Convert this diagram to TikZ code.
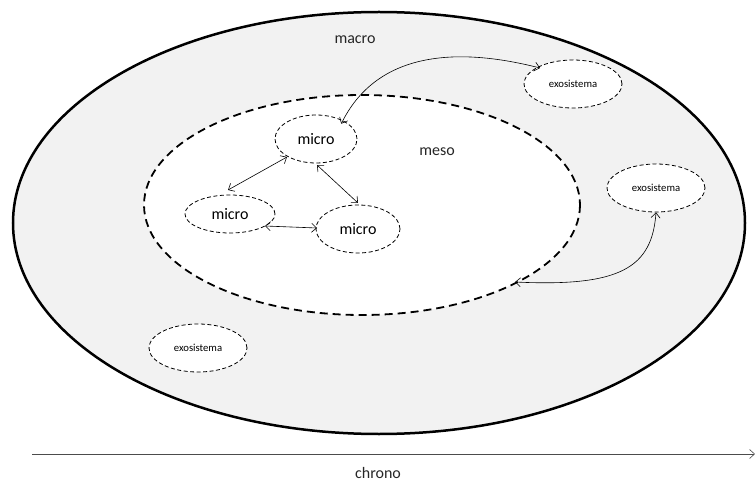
\documentclass[tikz,border=0pt]{standalone}
\usepackage{fontspec}
\setmainfont{Carlito}
\usetikzlibrary{arrows.meta,shapes.geometric}
\definecolor{ringgray}{HTML}{F2F2F2}
\begin{document}
\begin{tikzpicture}[x=1pt,y=-1pt,
  >={Straight Barb[length=5pt,width=9pt]},
  level/.style={ellipse, draw, fill=white, dashed, line width=0.8pt,
    dash pattern=on 4pt off 2.5pt, inner sep=0pt, font=\fontsize{16}{18}\selectfont},
  exo/.style={level, font=\fontsize{10.7}{12}\selectfont},
  link/.style={<->, line width=0.6pt},
  label/.style={font=\fontsize{16}{18}\selectfont, text=black!85}]
\useasboundingbox (0,0) rectangle (755,481);
% macro system
\draw[line width=2.5pt, fill=ringgray] (379,223) ellipse [x radius=366, y radius=211];
% meso system
\draw[line width=1.8pt, fill=white, dash pattern=on 8pt off 5pt] (362,205) ellipse [x radius=218, y radius=110];
\node[label] (macro) at (355,40) {macro};
\node[label] (meso) at (437,152) {meso};
% micro systems
\node[level, minimum width=82pt, minimum height=48pt] (m1) at (316,139) {micro};
\node[level, minimum width=90pt, minimum height=38pt] (m2) at (230,214) {micro};
\node[level, minimum width=84pt, minimum height=48pt] (m3) at (358,229) {micro};
% exosystems
\node[exo, minimum width=98pt, minimum height=48pt] (e1) at (573,84) {exosistema};
\node[exo, minimum width=98pt, minimum height=48pt] (e2) at (656,188) {exosistema};
\node[exo, minimum width=98pt, minimum height=48pt] (e3) at (198,348) {exosistema};
% relations
\draw[link] (m1.north east) ++(-4,2) coordinate (a1)
  (a1) .. controls (375,55) and (450,45) .. (540,68);
\draw[link] ([shift={(-29,18)}]m1.center) -- ([shift={(-2,-24)}]m2.center);
\draw[link] ([shift={(1,26)}]m1.center) -- ([shift={(0,-26)}]m3.center);
\draw[link] ([shift={(35,12)}]m2.center) -- ([shift={(-41,-1)}]m3.center);
\coordinate (mesoedge) at (515,282);
\draw[link] (e2.south) .. controls (652,268) and (620,287) .. (mesoedge);
% time axis
\coordinate (t0) at (32,454);
\coordinate (t1) at (755,454);
\draw[->, line width=0.6pt, black!70] (t0) -- (t1);
\node[label] (chrono) at (378,473) {chrono};
\end{tikzpicture}
\end{document}
